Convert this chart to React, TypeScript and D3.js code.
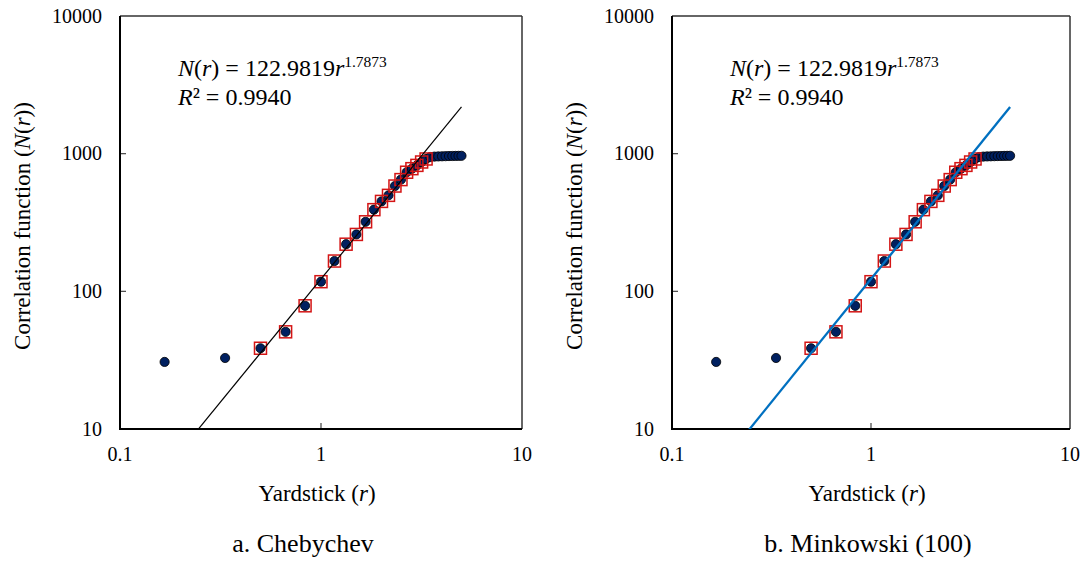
import React from "react";
import * as d3 from "d3";

// ---- data ----
const YARDSTICK_R = [
  0.1667, 0.3333, 0.5, 0.6667, 0.8333, 1.0, 1.1667, 1.3333, 1.5, 1.6667,
  1.8333, 2.0, 2.1667, 2.3333, 2.5, 2.6667, 2.8333, 3.0, 3.1667, 3.3333,
  3.5, 3.6667, 3.8333, 4.0, 4.1667, 4.3333, 4.5, 4.6667, 4.8333, 5.0,
];
const CORRELATION_N = [
  30.7, 32.8, 38.6, 50.8, 78.5, 117.5, 166, 220, 259, 320,
  392, 450, 498, 582, 648, 733, 778, 822, 870, 915,
  945, 952, 955, 957, 959, 961, 962, 963, 964, 965,
];
// points used for the power fit (red squares)
const FIT_R = [
  0.5, 0.6667, 0.8333, 1.0, 1.1667, 1.3333, 1.5, 1.6667, 1.8333, 2.0,
  2.1667, 2.3333, 2.5, 2.6667, 2.8333, 3.0, 3.1667, 3.3333,
];
const FIT_N = [
  38.6, 50.8, 78.5, 117.5, 166, 220, 259, 320, 392, 450,
  498, 582, 648, 733, 778, 822, 870, 915,
];
const FIT_COEF = 122.9819;
const FIT_EXP = 1.7873;
const FIT_LINE_R = [0.2, 5.0];
const X_TICKS = [0.1, 1, 10];
const Y_TICKS = [10, 100, 1000, 10000];
const PANELS = [
  { id: "a", caption: "a. Chebychev", lineColor: "#000000", lineWidth: 1.2 },
  { id: "b", caption: "b. Minkowski (100)", lineColor: "#0070C0", lineWidth: 2.3 },
];

// ---- layout ----
const FONT = "'Liberation Serif', 'Times New Roman', Times, serif";
const PANEL_LAYOUT = [
  { x0: 120, x1: 522, captionX: 303 },
  { x0: 672, x1: 1070, captionX: 868 },
];
const Y_TOP = 16;
const Y_BOTTOM = 429;

function Panel({ idx }: { idx: number }) {
  const p = PANELS[idx];
  const L = PANEL_LAYOUT[idx];
  const x = d3.scaleLog().domain([0.1, 10]).range([L.x0, L.x1]);
  const y = d3.scaleLog().domain([10, 10000]).range([Y_BOTTOM, Y_TOP]);
  const fitData = FIT_LINE_R.map((r) => [r, FIT_COEF * Math.pow(r, FIT_EXP)]);
  const line = d3
    .line<number[]>()
    .x((d) => x(d[0]))
    .y((d) => y(d[1]));
  const clipId = `clip-${p.id}`;
  const cx = (L.x0 + L.x1) / 2;
  const sq = 12;
  return (
    <g>
      <defs>
        <clipPath id={clipId}>
          <rect x={L.x0} y={Y_TOP} width={L.x1 - L.x0} height={Y_BOTTOM - Y_TOP} />
        </clipPath>
      </defs>
      {/* frame */}
      <line x1={L.x0} x2={L.x1} y1={Y_TOP} y2={Y_TOP} stroke="#333" strokeWidth={1.5} />
      <line x1={L.x1} x2={L.x1} y1={Y_TOP} y2={Y_BOTTOM} stroke="#333" strokeWidth={1.5} />
      {/* ticks */}
      {Y_TICKS.slice(1, -1).map((t) => (
        <line key={"yt" + t} x1={L.x0} x2={L.x0 + 6} y1={y(t)} y2={y(t)} stroke="#444" strokeWidth={1.2} />
      ))}
      {X_TICKS.slice(1, -1).map((t) => (
        <line key={"xt" + t} x1={x(t)} x2={x(t)} y1={Y_BOTTOM} y2={Y_BOTTOM - 6} stroke="#444" strokeWidth={1.2} />
      ))}
      <line x1={L.x0} x2={L.x0} y1={Y_TOP} y2={Y_BOTTOM} stroke="#000" strokeWidth={2} />
      <line x1={L.x0 - 1} x2={L.x1} y1={Y_BOTTOM} y2={Y_BOTTOM} stroke="#000" strokeWidth={2} />
      {/* tick labels */}
      {Y_TICKS.map((t) => (
        <text key={"yl" + t} x={L.x0 - 18} y={y(t)} dy="0.34em" textAnchor="end" fontSize={20} fontFamily={FONT}>
          {String(t)}
        </text>
      ))}
      {X_TICKS.map((t) => (
        <text key={"xl" + t} x={x(t)} y={Y_BOTTOM + 32} textAnchor="middle" fontSize={20} fontFamily={FONT}>
          {String(t)}
        </text>
      ))}
      {/* axis titles */}
      <text x={cx - 4} y={501} textAnchor="middle" fontSize={23} fontFamily={FONT}>
        Yardstick (<tspan fontStyle="italic">r</tspan>)
      </text>
      <text
        transform={`translate(${L.x0 - 90},226) rotate(-90)`}
        textAnchor="middle"
        fontSize={23}
        fontFamily={FONT}
      >
        Correlation function (<tspan fontStyle="italic">N</tspan>(<tspan fontStyle="italic">r</tspan>))
      </text>
      {/* caption */}
      <text x={L.captionX} y={552} textAnchor="middle" fontSize={26} fontFamily={FONT}>
        {p.caption}
      </text>
      {/* equation */}
      <text x={L.x0 + 58} y={76} fontSize={24} fontFamily={FONT}>
        <tspan fontStyle="italic">N</tspan>(<tspan fontStyle="italic">r</tspan>) = 122.9819
        <tspan fontStyle="italic">r</tspan>
        <tspan fontSize={15.5} dy={-9}>1.7873</tspan>
      </text>
      <text x={L.x0 + 58} y={105} fontSize={24} fontFamily={FONT}>
        <tspan fontStyle="italic">R</tspan>² = 0.9940
      </text>
      {/* data */}
      <g clipPath={`url(#${clipId})`}>
        {YARDSTICK_R.map((r, i) => (
          <circle key={"c" + i} cx={x(r)} cy={y(CORRELATION_N[i])} r={4.6} fill="#002060" stroke="#000" strokeWidth={0.8} />
        ))}
        {FIT_R.map((r, i) => (
          <rect
            key={"s" + i}
            x={x(r) - sq / 2}
            y={y(FIT_N[i]) - sq / 2}
            width={sq}
            height={sq}
            fill="none"
            stroke="#D41515"
            strokeWidth={1.5}
          />
        ))}
        <path d={line(fitData) || ""} fill="none" stroke={p.lineColor} strokeWidth={p.lineWidth} />
      </g>
    </g>
  );
}

export default function App() {
  return (
    <svg
      width={1086}
      height={562}
      style={{ position: "absolute", left: 0, top: 0, display: "block", background: "#fff" }}
    >
      <rect x={0} y={0} width={1086} height={562} fill="#fff" />
      <Panel idx={0} />
      <Panel idx={1} />
    </svg>
  );
}
